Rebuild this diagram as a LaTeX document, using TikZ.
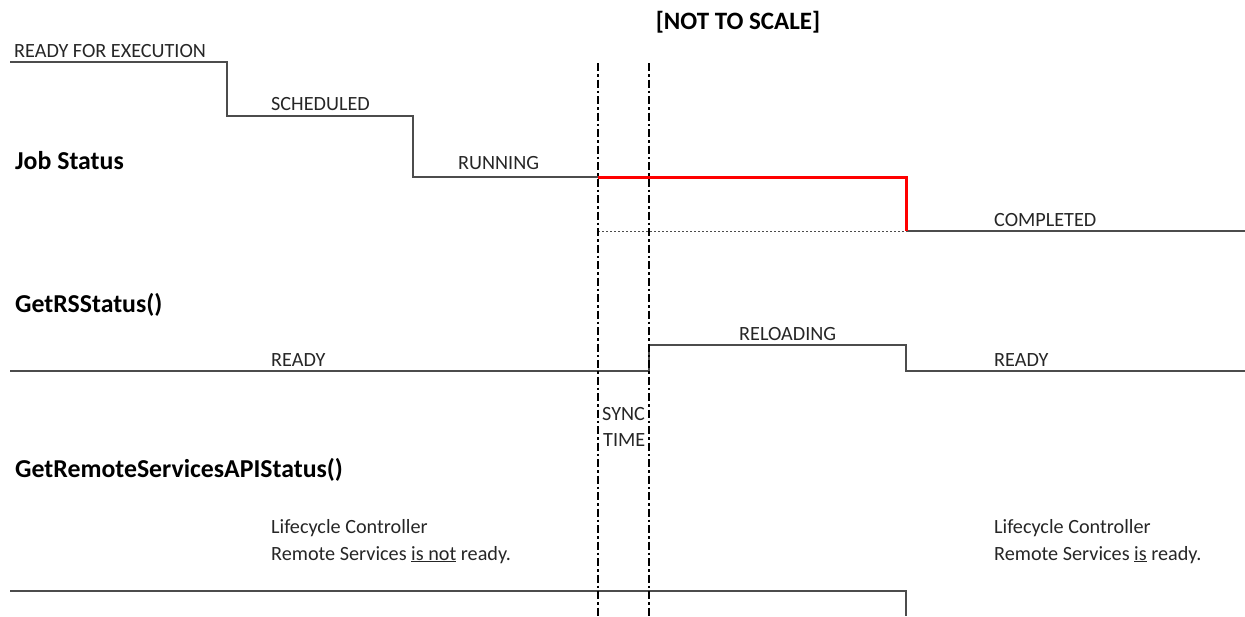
\documentclass[tikz,border=0pt]{standalone}
\usepackage{fontspec}
\setmainfont{Carlito}
\begin{document}
\begin{tikzpicture}[x=1pt,y=-1pt,
  lbl/.style={anchor=base west,inner sep=0pt,font=\fontsize{20.2}{24}\selectfont,text=black!85},
  ttl/.style={anchor=base west,inner sep=0pt,font=\bfseries\fontsize{25.8}{30}\selectfont},
  sig/.style={draw=black!70,line width=1.2pt},
  hot/.style={draw=red,line width=3pt},
  syncline/.style={draw=black,line width=2.4pt,dash pattern=on 8pt off 3pt on 2.5pt off 3pt},
  guide/.style={draw=black!70,line width=1pt,dash pattern=on 1.5pt off 2.5pt}]
\useasboundingbox (0,0) rectangle (1245,616);
% coordinates
\coordinate (j0) at (10,62);
\coordinate (j1) at (227,62);
\coordinate (j2) at (227,116);
\coordinate (j3) at (413,116);
\coordinate (j4) at (413,177);
\coordinate (j5) at (598,177);
\coordinate (j6) at (906,177);
\coordinate (j7) at (906,231);
\coordinate (j8) at (1245,231);
\coordinate (d0) at (598,231);
\coordinate (r0) at (10,371);
\coordinate (r1) at (649,371);
\coordinate (r2) at (649,345);
\coordinate (r3) at (906,345);
\coordinate (r4) at (906,371);
\coordinate (r5) at (1245,371);
\coordinate (b0) at (10,591);
\coordinate (b1) at (906,591);
\coordinate (b2) at (906,616);
\coordinate (s1t) at (598,63);
\coordinate (s1b) at (598,616);
\coordinate (s2t) at (649,63);
\coordinate (s2b) at (649,616);
% signals
\draw[sig] (j0) -- (j1) -- (j2) -- (j3) -- (j4) -- (j5);
\draw[guide] (d0) -- (j7);
\draw[sig] (j7) -- (j8);
\draw[hot] (j5) -- (j6) -- (j7);
\draw[sig] (r0) -- (r1) -- (r2) -- (r3) -- (r4) -- (r5);
\draw[sig] (b0) -- (b1) -- (b2);
\draw[syncline] (s1t) -- (s1b);
\draw[syncline] (s2t) -- (s2b);
% texts
\node[anchor=base,inner sep=0pt,font=\bfseries\fontsize{25}{30}\selectfont] (title) at (738,29) {[NOT TO SCALE]};
\node[lbl] (rfe) at (14,57) {READY FOR EXECUTION};
\node[lbl] (sch) at (271,110) {SCHEDULED};
\node[ttl] (job) at (15,169) {Job Status};
\node[lbl] (run) at (458,169) {RUNNING};
\node[lbl] (cmp) at (994,226) {COMPLETED};
\node[ttl] (grs) at (15,312) {GetRSStatus()};
\node[lbl] (rel) at (739,340) {RELOADING};
\node[lbl] (rdy1) at (271,366) {READY};
\node[lbl] (rdy2) at (994,366) {READY};
\node[lbl] (sync) at (602,420) {SYNC};
\node[lbl] (time) at (603,446) {TIME};
\node[ttl] (gapi) at (15,477) {GetRemoteServicesAPIStatus()};
\node[lbl] (lc1) at (271,533) {Lifecycle Controller};
\node[lbl] (rs1) at (271,560) {Remote Services \underline{is not} ready.};
\node[lbl] (lc2) at (994,533) {Lifecycle Controller};
\node[lbl] (rs2) at (994,560) {Remote Services \underline{is} ready.};
\end{tikzpicture}
\end{document}
